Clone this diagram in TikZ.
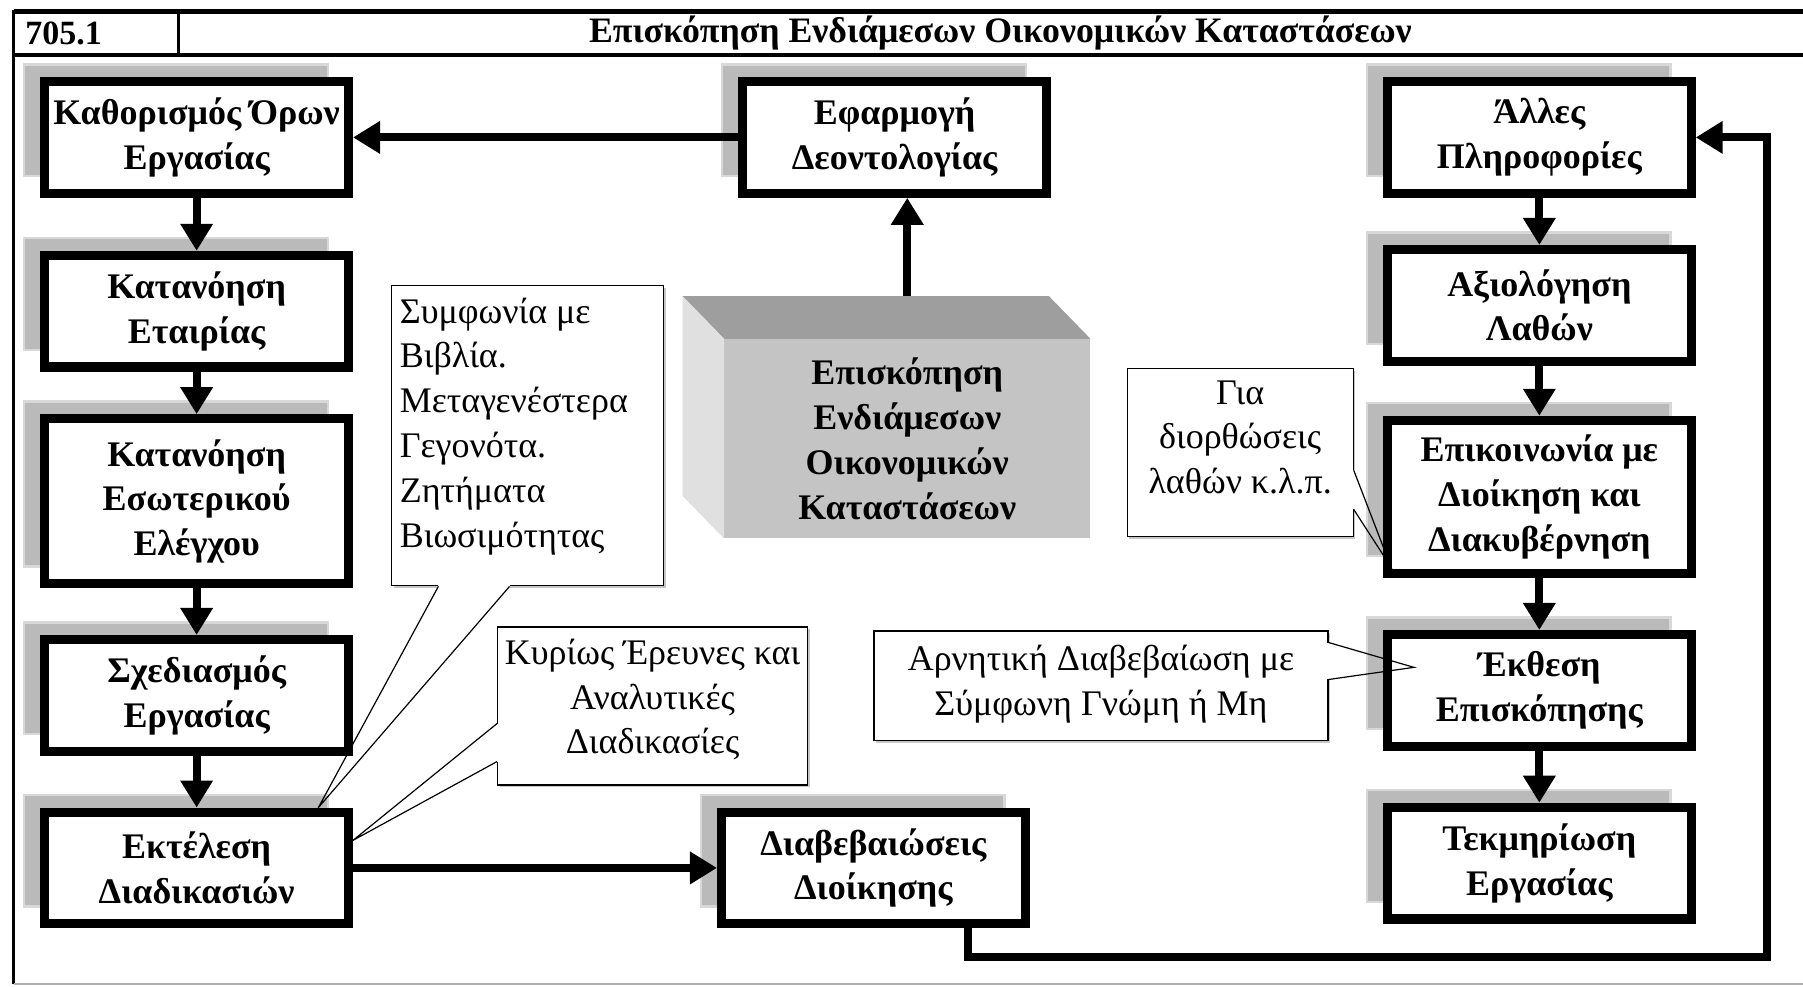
\documentclass[tikz,border=0pt]{standalone}
\usepackage{fontspec}
\setmainfont{Liberation Serif}
\usepackage{tikz}
\usetikzlibrary{arrows.meta,calc,positioning,shadows}
\definecolor{shgray}{RGB}{186,186,186}
\definecolor{shedge}{RGB}{216,216,216}
\definecolor{cubefront}{RGB}{196,196,196}
\definecolor{cubetop}{RGB}{158,158,158}
\definecolor{cubeside}{RGB}{224,224,224}
\definecolor{rulegray}{RGB}{175,175,175}

\begin{document}
\begin{tikzpicture}[
  x=0.575pt,y=-0.575pt,
  font=\fontsize{18}{22.4}\selectfont,
  stage/.style={draw,line width=4.6pt,fill=white,minimum width=151.8pt,
                minimum height=55.8pt,align=center,inner sep=1pt,
                font=\fontsize{18}{22.4}\selectfont\bfseries,
                general shadow={fill=shgray,draw=shedge,line width=1.2pt,
                                shadow xshift=-10.3pt,shadow yshift=8.6pt}},
  tall/.style={stage,minimum height=82.5pt},
  note/.style={draw,line width=0.6pt,fill=white,inner xsep=0pt,inner ysep=6pt,
               general shadow={fill=black!22,shadow xshift=1.1pt,shadow yshift=-1.1pt}},
  lead/.style={line width=0.6pt},
  arr/.style={-{Triangle[length=13.5pt,width=15.5pt]},line width=4pt},
  node distance=24pt
]
  \useasboundingbox (0,0) rectangle (1568,858);

  % frame and heading
  \draw[line width=2.2pt] (12,10) -- (1568,10);
  \draw[line width=2.2pt] (12,48) -- (1568,48);
  \draw[line width=1.6pt] (155,10) -- (155,48);
  \draw[line width=1.3pt] (12,9) -- (12,856);
  \draw[rulegray,line width=1.2pt] (12,856) -- (1568,856);
  \node[font=\fontsize{17}{20}\selectfont\bfseries,anchor=west] (code) at (16,29) {705.1};
  \node[font=\fontsize{17.9}{20}\selectfont\bfseries] (title) at (870,29)
    {Επισκόπηση Ενδιάμεσων Οικονομικών Καταστάσεων};

  % left column
  \node[stage] (terms) at (171,119.5) {Καθορισμός Όρων\\Εργασίας};
  \node[stage,below=26.5pt of terms] (firm) {Κατανόηση\\Εταιρίας};
  \node[tall,below=21.3pt of firm] (ictrl) {Κατανόηση\\Εσωτερικού\\Ελέγχου};
  \node[stage,below=23.3pt of ictrl] (plan) {Σχεδιασμός\\Εργασίας};
  \node[stage,below=25.9pt of plan] (exec) {Εκτέλεση\\Διαδικασιών};

  % middle
  \node[stage] (ethic) at (778,119.5) {Εφαρμογή\\Δεοντολογίας};
  \node[stage,right=182pt of exec] (assur) {Διαβεβαιώσεις\\Διοίκησης};

  % the block in the centre
  \node[fill=cubefront,minimum width=182.8pt,minimum height=99.5pt,inner sep=0pt,
        align=center,font=\fontsize{18}{22.6}\selectfont\bfseries] (review) at (789,381.5)
    {Επισκόπηση\\Ενδιάμεσων\\Οικονομικών\\Καταστάσεων};
  \fill[cubetop] (review.north west) -- ++(-36,-37)
    -- ($(review.north east)+(-36,-37)$) -- (review.north east) -- cycle;
  \fill[cubeside] (review.north west) -- ++(-36,-37)
    -- ($(review.south west)+(-36,-37)$) -- (review.south west) -- cycle;
  \coordinate (rtop) at ($(review.north)+(0,-37)$);

  % right column
  \node[stage,right=166pt of ethic] (other) {Άλλες\\Πληροφορίες};
  \node[stage,below=23.6pt of other] (errors) {Αξιολόγηση\\Λαθών};
  \node[stage,minimum height=76.5pt,below=25pt of errors] (comm)
    {Επικοινωνία με\\Διοίκηση και\\Διακυβέρνηση};
  \node[stage,below=26pt of comm] (report) {Έκθεση\\Επισκόπησης};
  \node[stage,below=26pt of report] (docu) {Τεκμηρίωση\\Εργασίας};

  % notes
  \node[note,inner xsep=4pt] (books) at (459,379)
    {\parbox[c][138pt][t]{128pt}{\raggedright Συμφωνία με\\Βιβλία.\\Μεταγενέστερα\\Γεγονότα.\\Ζητήματα\\Βιωσιμότητας}};
  \node[note] (survey) at (567.5,614)
    {\parbox[c][67pt][t]{155pt}{\centering Κυρίως Έρευνες και\\Αναλυτικές\\Διαδικασίες}};
  \node[note] (errs) at (1078.5,393.5)
    {\parbox[c][72pt][t]{113pt}{\centering Για\\διορθώσεις\\λαθών κ.λ.π.}};
  \node[note,inner ysep=7pt] (neg) at (957.5,596.5)
    {\parbox[c][41pt][t]{227pt}{\centering Αρνητική Διαβεβαίωση με\\Σύμφωνη Γνώμη ή Μη}};

  % note pointers
  \draw[white,line width=1.4pt] ([xshift=23.6pt]books.south west) -- ([xshift=59.2pt]books.south west);
  \draw[lead] ([xshift=23.6pt]books.south west) -- ([xshift=-17.3pt]exec.north east)
    -- ([xshift=59.2pt]books.south west);
  \draw[white,line width=1.4pt] ([yshift=12pt]survey.south west) -- ([yshift=31pt]survey.south west);
  \draw[lead] ([yshift=12pt]survey.south west) -- ([yshift=13.8pt]exec.east)
    -- ([yshift=31pt]survey.south west);
  \draw[white,line width=1.4pt] ([yshift=13.8pt]errs.south east) -- ([yshift=33.4pt]errs.south east);
  \draw[lead] ([yshift=13.8pt]errs.south east) -- ([shift={(4pt,5.5pt)}]comm.south west)
    -- ([yshift=33.4pt]errs.south east);
  \draw[white,line width=1.4pt] ([yshift=31pt]neg.south east) -- ([yshift=49.5pt]neg.south east);
  \draw[lead] ([yshift=31pt]neg.south east) -- ([shift={(15.5pt,11.5pt)}]report.west)
    -- ([yshift=49.5pt]neg.south east);

  % flow
  \draw[arr] (ethic) -- (terms);
  \draw[arr] (terms) -- (firm);
  \draw[arr] (firm) -- (ictrl);
  \draw[arr] (ictrl) -- (plan);
  \draw[arr] (plan) -- (exec);
  \draw[arr] (exec) -- (assur);
  \draw[arr] (rtop) -- (rtop |- ethic.south);
  \draw[arr] (other) -- (errors);
  \draw[arr] (errors) -- (comm);
  \draw[arr] (comm) -- (report);
  \draw[arr] (report) -- (docu);
  \coordinate (loop) at (1537,832);
  \draw[arr] ([xshift=47.4pt]assur.south) |- (loop) |- (other.east);
\end{tikzpicture}
\end{document}
